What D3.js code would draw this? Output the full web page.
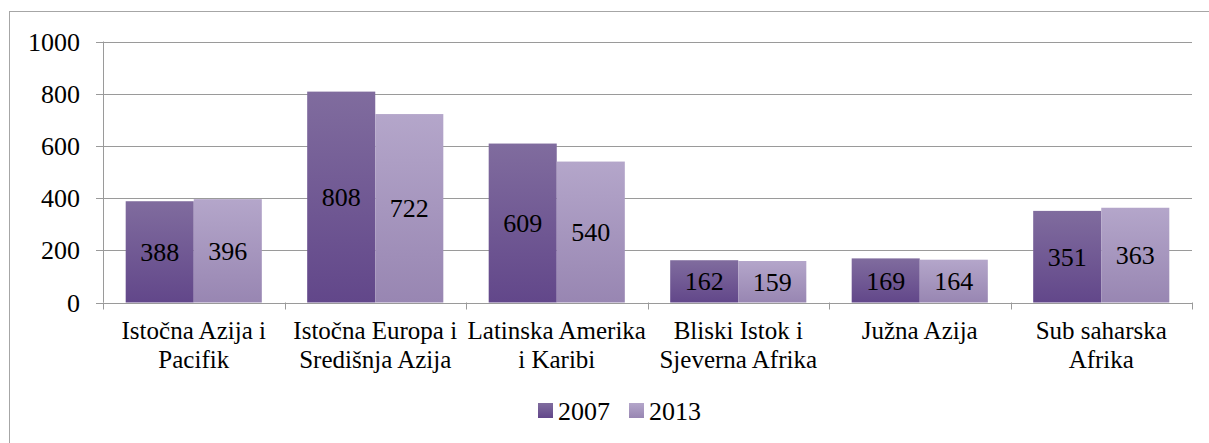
<!DOCTYPE html>
<html>
<head>
<meta charset="utf-8">
<script src="https://cdn.jsdelivr.net/npm/d3@7"></script>
<style>
  body { margin: 0; background: #fff; }
</style>
</head>
<body>
<svg id="chart"></svg>
<script>
const WIDTH = 1209;
const HEIGHT = 443;
const FONT = '"Liberation Serif", "Times New Roman", serif';

const categories = [
	['Istočna Azija i', 'Pacifik'],
	['Istočna Europa i', 'Središnja Azija'],
	['Latinska Amerika', 'i Karibi'],
	['Bliski Istok i', 'Sjeverna Afrika'],
	['Južna Azija'],
	['Sub saharska', 'Afrika']
];
const seriesNames = ['2007', '2013'];
const values2007 = [388, 808, 609, 162, 169, 351];
const values2013 = [396, 722, 540, 159, 164, 363];
const yTicks = [0, 200, 400, 600, 800, 1000];

const margin = {left: 103, right: 17, top: 41.5, bottom: 140.5};

const svg = d3.select('#chart')
	.attr('width', WIDTH)
	.attr('height', HEIGHT);

// gradients like the office chart fill
const defs = svg.append('defs');
const gradients = [
	{id: 'g2007', top: '#806c9e', bottom: '#62478a'},
	{id: 'g2013', top: '#b4a6ca', bottom: '#9886b2'}
];
gradients.forEach(g => {
	const lg = defs.append('linearGradient')
		.attr('id', g.id)
		.attr('x1', 0).attr('y1', 0)
		.attr('x2', 0).attr('y2', 1);
	lg.append('stop').attr('offset', '0%').attr('stop-color', g.top);
	lg.append('stop').attr('offset', '100%').attr('stop-color', g.bottom);
});

// outer chart border
svg.append('rect')
	.attr('x', 9.5)
	.attr('y', 11.5)
	.attr('width', WIDTH)
	.attr('height', HEIGHT)
	.attr('fill', 'none')
	.attr('stroke', '#a6a6a6')
	.attr('stroke-width', 1);

const x0 = d3.scaleBand()
	.domain(d3.range(categories.length))
	.range([margin.left, WIDTH - margin.right])
	.paddingInner(0.25)
	.paddingOuter(0.125);

const x1 = d3.scaleBand()
	.domain(seriesNames)
	.range([0, x0.bandwidth()]);

const y = d3.scaleLinear()
	.domain([0, 1000])
	.range([HEIGHT - margin.bottom, margin.top]);

const step = (WIDTH - margin.right - margin.left) / categories.length;

// gridlines
svg.append('g')
	.selectAll('line')
	.data(yTicks)
	.enter()
	.append('line')
	.attr('x1', margin.left - 7)
	.attr('x2', WIDTH - margin.right)
	.attr('y1', d => Math.round(y(d)) + 0.5)
	.attr('y2', d => Math.round(y(d)) + 0.5)
	.attr('stroke', '#9a9a9a')
	.attr('stroke-width', 1);

// y axis line
svg.append('line')
	.attr('x1', margin.left + 0.5)
	.attr('x2', margin.left + 0.5)
	.attr('y1', y(1000))
	.attr('y2', y(0))
	.attr('stroke', '#9a9a9a');

// y tick labels
svg.append('g')
	.selectAll('text')
	.data(yTicks)
	.enter()
	.append('text')
	.attr('x', 80)
	.attr('y', d => y(d))
	.attr('dy', '0.35em')
	.attr('text-anchor', 'end')
	.style('font-family', FONT)
	.style('font-size', '26px')
	.text(d => d);

// x ticks at category boundaries
svg.append('g')
	.selectAll('line')
	.data(d3.range(categories.length + 1))
	.enter()
	.append('line')
	.attr('x1', i => Math.round(margin.left + i * step) + 0.5)
	.attr('x2', i => Math.round(margin.left + i * step) + 0.5)
	.attr('y1', y(0))
	.attr('y2', y(0) + 7)
	.attr('stroke', '#9a9a9a');

// bars
const rows = categories.map((c, i) => [
	{series: '2007', value: values2007[i], grad: 'g2007'},
	{series: '2013', value: values2013[i], grad: 'g2013'}
]);

const groups = svg.append('g')
	.selectAll('g')
	.data(rows)
	.enter()
	.append('g')
	.attr('transform', (d, i) => `translate(${x0(i)},0)`);

groups.selectAll('rect')
	.data(d => d)
	.enter()
	.append('rect')
	.attr('x', d => x1(d.series))
	.attr('y', d => y(d.value))
	.attr('width', x1.bandwidth())
	.attr('height', d => y(0) - y(d.value))
	.attr('fill', d => `url(#${d.grad})`);

groups.selectAll('text')
	.data(d => d)
	.enter()
	.append('text')
	.attr('x', d => x1(d.series) + x1.bandwidth() / 2)
	.attr('y', d => (y(d.value) + y(0)) / 2)
	.attr('dy', '0.35em')
	.attr('text-anchor', 'middle')
	.style('font-family', FONT)
	.style('font-size', '26px')
	.text(d => d.value);

// category labels
const catLabels = svg.append('g')
	.selectAll('text')
	.data(categories)
	.enter()
	.append('text')
	.attr('text-anchor', 'middle')
	.style('font-family', FONT)
	.style('font-size', '25px')
	.attr('transform', (d, i) => `translate(${margin.left + (i + 0.5) * step},339)`);

catLabels.selectAll('tspan')
	.data(d => d)
	.enter()
	.append('tspan')
	.attr('x', 0)
	.attr('y', (d, i) => i * 29)
	.text(d => d);

// legend
const legend = svg.append('g')
	.attr('transform', 'translate(538,403)');

const legendItems = legend.selectAll('g')
	.data(gradients)
	.enter()
	.append('g')
	.attr('transform', (d, i) => `translate(${i * 91},0)`);

legendItems.append('rect')
	.attr('width', 15)
	.attr('height', 15)
	.attr('fill', d => `url(#${d.id})`);

legendItems.append('text')
	.attr('x', 20)
	.attr('y', 8)
	.attr('dy', '0.35em')
	.style('font-family', FONT)
	.style('font-size', '26px')
	.text((d, i) => seriesNames[i]);
</script>
</body>
</html>
